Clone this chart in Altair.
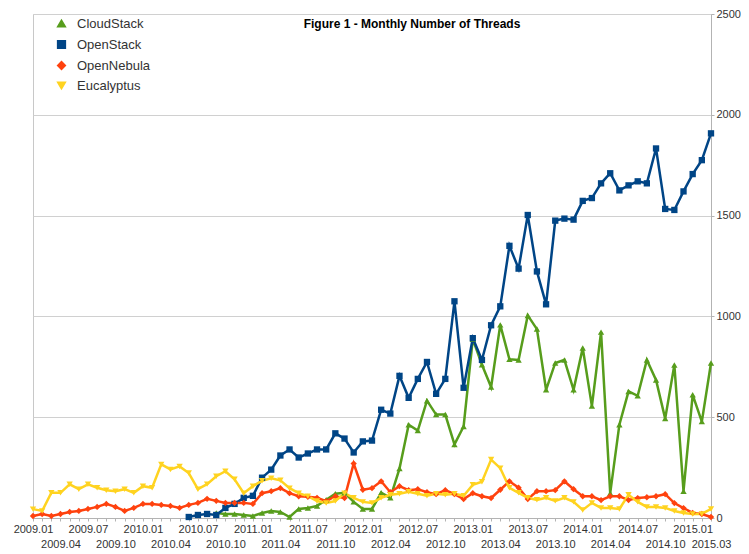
import altair as alt
import pandas as pd

series_names = ["CloudStack", "OpenStack", "OpenNebula", "Eucalyptus"]
series_colors = ["#579d1c", "#004586", "#ff420e", "#ffd320"]
series_shapes = ["triangle-up", "square", "diamond", "triangle-down"]

N = None
cloudstack = [N]*20 + [25, 20, 20, 15, 10, 25, 35, 30, 5, 45, 50, 60, 90, 120, 125, 80, 45, 45, 125, 100,
              245, 463, 434, 582, 513, 513, 365, 454, 887, 760, 650, 958, 787, 784, 1005, 937, 636, 769, 784, 636,
              843, 555, 922, 123, 463, 628, 606, 784, 685, 493, 759, 133, 611, 478, 769]
openstack = [N]*17 + [5, 15, 20, 15, 50, 70, 100, 110, 200, 240, 310, 340, 300, 320, 340, 340, 420, 394, 325,
             380, 384, 537, 518, 705, 596, 690, 774, 616, 690, 1075, 646, 892, 784, 956, 1050, 1350, 1237, 1503,
             1223, 1060, 1475, 1485, 1480, 1573, 1587, 1660, 1710, 1625, 1650, 1670, 1660, 1833, 1533, 1528, 1620,
             1706, 1775, 1908]
opennebula = [10, 20, 10, 20, 30, 35, 45, 55, 70, 55, 35, 50, 70, 70, 65, 60, 50, 65, 75, 95,
              85, 75, 75, 75, 70, 123, 133, 148, 123, 108, 105, 100, 84, 108, 99, 270, 140, 148, 182, 128,
              158, 138, 143, 128, 118, 138, 118, 94, 123, 108, 99, 140, 182, 150, 94, 133, 133, 138, 182, 143,
              108, 108, 89, 108, 108, 89, 99, 103, 108, 118, 74, 49, 25, 20, 5]
eucalyptus = [44, 35, 125, 125, 167, 143, 167, 150, 138, 133, 143, 125, 158, 150, 266, 241, 256, 223, 143, 168,
              207, 232, 192, 123, 158, 185, 197, 187, 148, 123, 108, 84, 74, 84, 123, 100, 80, 75, 100, 115,
              120, 130, 120, 110, 120, 115, 120, 110, 165, 180, 290, 247, 150, 125, 100, 90, 100, 85, 100, 80,
              40, 75, 50, 50, 45, 115, 80, 55, 55, 50, 35, 25, 20, 20, 45]

# tick labels: (month index, text, row)
tick_index = [0, 3, 6, 9, 12, 15, 18, 21, 24, 27, 30, 33, 36, 39, 42, 45, 48, 51, 54, 57, 60, 63, 66, 69, 72, 74]
tick_text = ["2009.01", "2009.04", "2009.07", "2009.10", "2010.01", "2010.04", "2010.07", "2010.10",
             "2011.01", "2011.04", "2011.07", "2011.10", "2012.01", "2012.04", "2012.07", "2012.10",
             "2013.01", "2013.04", "2013.07", "2013.10", "2014.01", "2014.04", "2014.07", "2014.10",
             "2015.01", "2015.03"]
tick_row = [1, 2, 1, 2, 1, 2, 1, 2, 1, 2, 1, 2, 1, 2, 1, 2, 1, 2, 1, 2, 1, 2, 1, 2, 1, 2]

rows = []
for name, vals in zip(series_names, [cloudstack, openstack, opennebula, eucalyptus]):
    for i, v in enumerate(vals):
        if v is not None:
            rows.append({"idx": i, "series": name, "value": v})
df = pd.DataFrame(rows)

n_months = len(opennebula)
lbl = ["''"] * n_months
for i, t, r in zip(tick_index, tick_text, tick_row):
    lbl[i] = f"'{t}'" if r == 1 else f"['', '{t}']"
label_expr = "[" + ",".join(lbl) + "][datum.value]"

x_enc = alt.X("idx:Q",
              scale=alt.Scale(domain=[0, n_months - 1], nice=False, zero=False),
              axis=alt.Axis(values=list(range(n_months)), labelExpr=label_expr, title=None, grid=False,
                            tickSize=3, tickColor="#b3b3b3", labelOverlap=False, labelFlush=False,
                            labelBound=False, labelFontSize=11, labelColor="#333333", labelPadding=2,
                            labelLineHeight=15, domainColor="#b3b3b3", labelFont="Liberation Sans"))
y_enc = alt.Y("value:Q",
              scale=alt.Scale(domain=[0, 2500], nice=False),
              axis=alt.Axis(orient="right", values=[0, 500, 1000, 1500, 2000, 2500], title=None, grid=True,
                            format="d", gridColor="#d0d0d0", tickSize=3, tickColor="#b3b3b3",
                            domainColor="#b3b3b3", labelFontSize=11, labelColor="#333333", labelPadding=2,
                            labelFont="Liberation Sans"))
legend_kw = dict(title=None, orient="none", legendX=22, legendY=3, labelFontSize=13,
                 labelFont="Liberation Sans", labelColor="#333333", rowPadding=6, labelOffset=9,
                 symbolSize=60, padding=0)
color_enc = alt.Color("series:N", scale=alt.Scale(domain=series_names, range=series_colors),
                      legend=alt.Legend(**legend_kw))
shape_enc = alt.Shape("series:N", scale=alt.Scale(domain=series_names, range=series_shapes),
                      legend=alt.Legend(**legend_kw))

base = alt.Chart(df).encode(x=x_enc, y=y_enc, color=color_enc)
lines = base.mark_line(strokeWidth=2.5)
points = base.mark_point(filled=True, size=40, opacity=1).encode(shape=shape_enc)

chart = (lines + points).properties(
    width=678, height=504,
    title=alt.TitleParams("Figure 1 - Monthly Number of Threads", fontSize=12, fontWeight="bold",
                          font="Liberation Sans", anchor="middle", dx=40, offset=-23, color="#000000"),
    autosize=alt.AutoSizeParams(type="none"),
    padding={"left": 25, "top": 6, "right": 30, "bottom": 36},
).configure_view(stroke="#c8c8c8")

chart.save("out.html", embed_options={"renderer": "svg", "actions": False})
